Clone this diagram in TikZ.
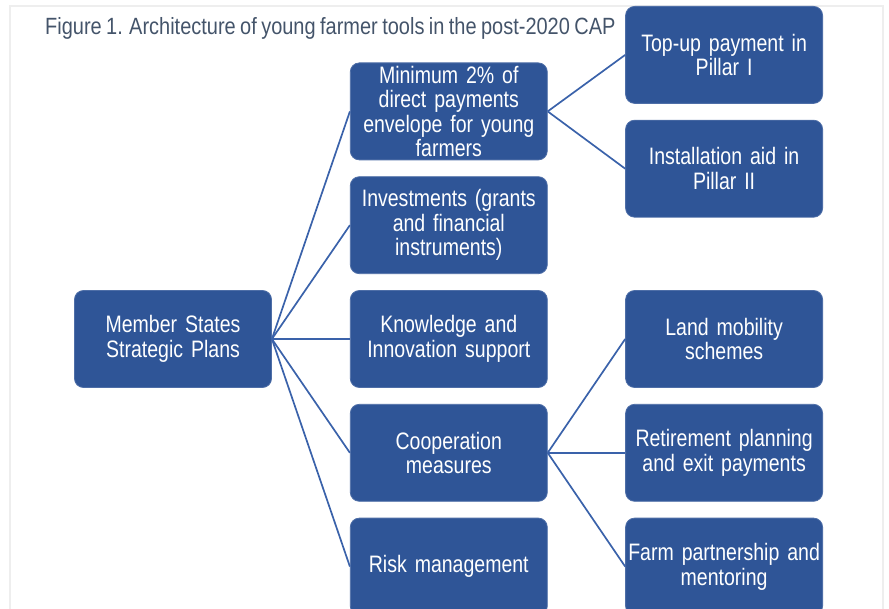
\documentclass[tikz,border=0pt]{standalone}
\usepackage{fontspec}
\setmainfont[FakeStretch=0.82,WordSpace=0.75]{Liberation Sans}
\newfontfamily\titlefont[FakeStretch=0.85,WordSpace=0.8]{Liberation Sans}
\usepackage{tikz}
\usetikzlibrary{positioning}
\definecolor{boxblue}{HTML}{2F5597}
\definecolor{lineblue}{HTML}{3A62AA}
\definecolor{titlegrey}{HTML}{44546A}
\definecolor{framegrey}{HTML}{EEEEEE}
\tikzset{
  toolbox/.style={rectangle, rounded corners=9pt, fill=boxblue, draw=boxblue!85!white, line width=0.8pt,
    text=white, text width=193pt, inner xsep=2pt, inner ysep=0pt, minimum height=97pt, align=center,
    font=\fontsize{23.8}{24.6}\selectfont},
  link/.style={lineblue, line width=1.7pt}
}

\begin{document}
\begin{tikzpicture}[x=1pt,y=-1pt]
\useasboundingbox (0,0) rectangle (889,609);
\draw[framegrey, line width=2pt] (10,640) -- (10,6) -- (883,6) -- (883,640);
\node[anchor=base west, text=titlegrey, font=\titlefont\fontsize{23.5}{24}\selectfont, inner sep=0pt] (title) at (45,35)
  {Figure 1. Architecture of young farmer tools in the post-2020 CAP};

\node[toolbox] (plans) at (173,339) {Member States\\Strategic Plans};

\node[toolbox, right=78pt of plans] (knowledge) {Knowledge and\\Innovation support};
\node[toolbox, above=16pt of knowledge] (invest) {Investments (grants\\and financial\\instruments)};
\node[toolbox, above=16pt of invest] (minimum) {Minimum 2\% of\\direct payments\\envelope for young\\farmers};
\node[toolbox, below=16pt of knowledge] (coop) {Cooperation\\measures};
\node[toolbox, below=16pt of coop] (risk) {Risk management};

\node[toolbox, right=77.5pt of coop] (retire) {Retirement planning\\and exit payments};
\node[toolbox, above=16pt of retire] (land) {Land mobility\\schemes};
\node[toolbox, below=16pt of retire] (farm) {Farm partnership and\\mentoring};
\node[toolbox, right=77.5pt of minimum, yshift=56.5pt] (topup) {Top-up payment in\\Pillar I};
\node[toolbox, below=16pt of topup] (install) {Installation aid in\\Pillar II};

\foreach \t in {minimum,invest,knowledge,coop,risk}
  \draw[link] (plans.east) -- (\t.west);
\foreach \t in {topup,install}
  \draw[link] (minimum.east) -- (\t.west);
\foreach \t in {land,retire,farm}
  \draw[link] (coop.east) -- (\t.west);
\end{tikzpicture}
\end{document}
